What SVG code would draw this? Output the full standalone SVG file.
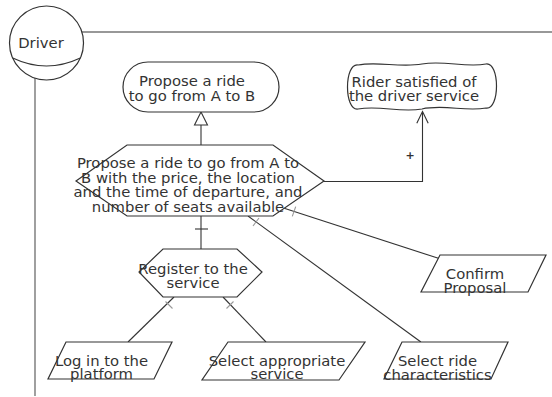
<svg xmlns="http://www.w3.org/2000/svg" width="552" height="397" viewBox="0 0 552 397">
  <style>
    .shape { fill: #ffffff; stroke: #333333; stroke-width: 1.2; }
    .lbl { font-family: "DejaVu Sans", Verdana, sans-serif; font-size: 14.8px; fill: #333333; text-anchor: middle; }
    .link { fill: none; stroke: #333333; stroke-width: 1.1; }
    .tick { fill: none; stroke: #999999; stroke-width: 1.1; }
    .tickdark { fill: none; stroke: #333333; stroke-width: 1.1; }
  </style>

  <!-- actor boundary -->
  <g id="actor-driver">
    <line x1="82" y1="32" x2="552" y2="32" stroke="#333333" stroke-width="1.1"/>
    <line x1="35" y1="78" x2="35" y2="396" stroke="#888888" stroke-width="1.6"/>
    <circle class="shape" cx="46.5" cy="43" r="37"/>
    <path d="M 12.7 58 Q 46.5 74 80.3 58" fill="none" stroke="#333333" stroke-width="1.1"/>
    <text class="lbl" x="41" y="48">Driver</text>
  </g>

  <!-- connectors -->
  <g id="connectors">
    <!-- task to goal (means-end) -->
    <line class="link" x1="201" y1="145" x2="201" y2="125"/>
    <polygon points="201,112 194.5,125 207.5,125" fill="#ffffff" stroke="#333333" stroke-width="1.1"/>

    <!-- contribution to softgoal -->
    <polyline class="link" points="324,181.5 422.5,181.5 422.5,112"/>
    <polyline class="link" points="416.8,123.3 422.5,111.5 428.2,123.3"/>
    <text x="410" y="159" font-family="DejaVu Sans, sans-serif" font-size="11px" font-weight="bold" fill="#333333" text-anchor="middle">+</text>

    <!-- decomposition links -->
    <line class="link" x1="201" y1="216" x2="201" y2="249"/>
    <line class="tickdark" x1="195" y1="229" x2="208" y2="229"/>

    <line class="link" x1="284.2" y1="208.3" x2="438.4" y2="258.3"/>
    <line class="tick" x1="292.3" y1="216.4" x2="295.7" y2="206.6"/>

    <line class="link" x1="248" y1="216" x2="420.9" y2="342"/>
    <line class="tick" x1="253" y1="226" x2="259" y2="218"/>

    <line class="link" x1="174" y1="297" x2="128" y2="342"/>
    <line class="tick" x1="165.5" y1="301.5" x2="172.5" y2="308.5"/>

    <line class="link" x1="223" y1="297" x2="266" y2="342"/>
    <line class="tick" x1="226.5" y1="308.5" x2="233.5" y2="301.5"/>
  </g>

  <!-- goal -->
  <g id="goal-propose-ride">
    <rect class="shape" x="123" y="62" width="156" height="50" rx="25" ry="25"/>
    <text class="lbl" x="192" y="86">Propose a ride</text>
    <text class="lbl" x="192" y="101">to go from A to B</text>
  </g>

  <!-- softgoal -->
  <g id="softgoal-rider-satisfied">
    <path class="shape" d="M 358 65 C 378 61, 400 68, 422 64 C 444 60, 466 68, 486 64 C 500 62, 500 110, 486 108 C 466 112, 444 104, 422 109 C 400 113, 380 105, 358 109 C 344 111, 344 63, 358 65 Z"/>
    <text class="lbl" x="414" y="87">Rider satisfied of</text>
    <text class="lbl" x="414" y="101">the driver service</text>
  </g>

  <!-- main task -->
  <g id="task-propose-ride-details">
    <polygon class="shape" points="127,145 273,145 324,181 273,216 127,216 76,181"/>
    <text class="lbl" x="188" y="168">Propose a ride to go from A to</text>
    <text class="lbl" x="188" y="182.5">B with the price, the location</text>
    <text class="lbl" x="188" y="197">and the time of departure, and</text>
    <text class="lbl" x="188" y="211.5">number of seats available</text>
  </g>

  <!-- sub task -->
  <g id="task-register">
    <polygon class="shape" points="163,249 237,249 262,272 237,297 163,297 139,272"/>
    <text class="lbl" x="193" y="274">Register to the</text>
    <text class="lbl" x="193" y="288">service</text>
  </g>

  <!-- resources -->
  <g id="res-login">
    <polygon class="shape" points="66,342 172,342 154,379 48,379"/>
    <text class="lbl" x="101.5" y="366">Log in to the</text>
    <text class="lbl" x="101.5" y="379">platform</text>
  </g>

  <g id="res-select-service">
    <polygon class="shape" points="228,342 365,342 339,380 202,380"/>
    <text class="lbl" x="277" y="366">Select appropriate</text>
    <text class="lbl" x="277" y="379">service</text>
  </g>

  <g id="res-select-ride">
    <polygon class="shape" points="402,342 508,342 491,379 384,379"/>
    <text class="lbl" x="437.5" y="366">Select ride</text>
    <text class="lbl" x="437.5" y="380">characteristics</text>
  </g>

  <g id="res-confirm">
    <polygon class="shape" points="440,255 546,255 528,292 421,292"/>
    <text class="lbl" x="475" y="279">Confirm</text>
    <text class="lbl" x="475" y="293">Proposal</text>
  </g>
</svg>
